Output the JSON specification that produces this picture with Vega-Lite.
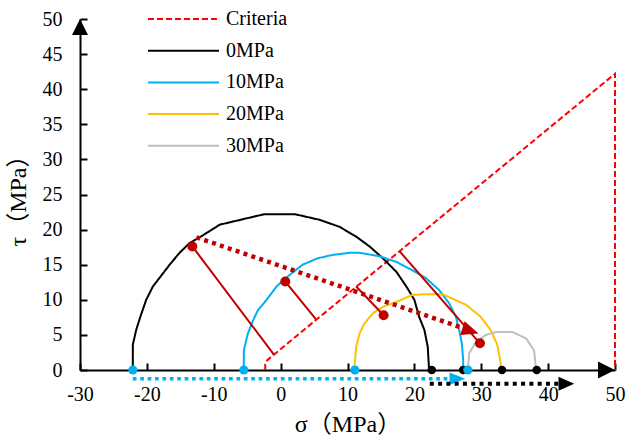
{
  "$schema": "https://vega.github.io/schema/vega-lite/v6.json",
  "width": 535,
  "height": 351,
  "autosize": {"type": "none"},
  "padding": {"left": 80, "top": 19, "right": 13, "bottom": 72},
  "background": "white",
  "config": {
    "view": {"stroke": null},
    "font": "Liberation Serif, Times New Roman, serif",
    "axis": {
      "grid": false,
      "domainColor": "black",
      "domainWidth": 2,
      "tickColor": "black",
      "tickWidth": 2,
      "tickSize": -7,
      "labelFlush": false,
      "labelFont": "Liberation Serif, Times New Roman, serif",
      "labelFontSize": 20,
      "labelColor": "black",
      "titleFont": "Liberation Serif, Noto Sans CJK SC, serif",
      "titleFontSize": 24,
      "titleFontWeight": "normal",
      "titleColor": "black"
    },
    "legend": {
      "orient": "none",
      "legendX": 67,
      "legendY": -10,
      "padding": 0,
      "symbolType": "stroke",
      "symbolSize": 5041,
      "symbolStrokeWidth": 2,
      "clipHeight": 20,
      "rowPadding": 11.7,
      "labelOffset": 6,
      "labelFont": "Liberation Serif, Times New Roman, serif",
      "labelFontSize": 20,
      "labelColor": "black",
      "labelLimit": 200
    }
  },
  "datasets": {
    "curves": [
      {"s": "Criteria", "i": 0, "x": -2.3, "y": 0},
      {"s": "Criteria", "i": 1, "x": -2.3, "y": 0.8},
      {"s": "Criteria", "i": 2, "x": -2.0, "y": 1.4},
      {"s": "Criteria", "i": 3, "x": -1.5, "y": 1.8},
      {"s": "Criteria", "i": 4, "x": 50, "y": 42.2},
      {"s": "Criteria", "i": 5, "x": 50, "y": 0},

      {"s": "0MPa", "i": 0, "x": -22.1, "y": 0},
      {"s": "0MPa", "i": 1, "x": -22.1, "y": 3.6},
      {"s": "0MPa", "i": 2, "x": -21.6, "y": 5.7},
      {"s": "0MPa", "i": 3, "x": -20.9, "y": 7.8},
      {"s": "0MPa", "i": 4, "x": -20.1, "y": 10.0},
      {"s": "0MPa", "i": 5, "x": -19.1, "y": 11.9},
      {"s": "0MPa", "i": 6, "x": -17.8, "y": 13.5},
      {"s": "0MPa", "i": 7, "x": -16.6, "y": 15.0},
      {"s": "0MPa", "i": 8, "x": -15.1, "y": 16.7},
      {"s": "0MPa", "i": 9, "x": -13.6, "y": 18.1},
      {"s": "0MPa", "i": 10, "x": -11.6, "y": 19.2},
      {"s": "0MPa", "i": 11, "x": -9.1, "y": 20.7},
      {"s": "0MPa", "i": 12, "x": -5.1, "y": 21.6},
      {"s": "0MPa", "i": 13, "x": -2.4, "y": 22.2},
      {"s": "0MPa", "i": 14, "x": 2.1, "y": 22.2},
      {"s": "0MPa", "i": 15, "x": 5.8, "y": 21.4},
      {"s": "0MPa", "i": 16, "x": 8.8, "y": 20.4},
      {"s": "0MPa", "i": 17, "x": 11.3, "y": 19.0},
      {"s": "0MPa", "i": 18, "x": 13.3, "y": 17.6},
      {"s": "0MPa", "i": 19, "x": 15.3, "y": 15.9},
      {"s": "0MPa", "i": 20, "x": 17.3, "y": 14.0},
      {"s": "0MPa", "i": 21, "x": 18.8, "y": 11.9},
      {"s": "0MPa", "i": 22, "x": 20.0, "y": 10.0},
      {"s": "0MPa", "i": 23, "x": 20.7, "y": 7.6},
      {"s": "0MPa", "i": 24, "x": 21.5, "y": 5.7},
      {"s": "0MPa", "i": 25, "x": 22.0, "y": 3.3},
      {"s": "0MPa", "i": 26, "x": 22.2, "y": 0},

      {"s": "10MPa", "i": 0, "x": -5.5, "y": 0},
      {"s": "10MPa", "i": 1, "x": -5.5, "y": 2.8},
      {"s": "10MPa", "i": 2, "x": -4.9, "y": 5.2},
      {"s": "10MPa", "i": 3, "x": -4.1, "y": 7.1},
      {"s": "10MPa", "i": 4, "x": -3.4, "y": 8.5},
      {"s": "10MPa", "i": 5, "x": -2.1, "y": 10.0},
      {"s": "10MPa", "i": 6, "x": -0.6, "y": 11.9},
      {"s": "10MPa", "i": 7, "x": 1.3, "y": 13.5},
      {"s": "10MPa", "i": 8, "x": 3.3, "y": 15.0},
      {"s": "10MPa", "i": 9, "x": 5.5, "y": 15.9},
      {"s": "10MPa", "i": 10, "x": 7.8, "y": 16.4},
      {"s": "10MPa", "i": 11, "x": 10.3, "y": 16.7},
      {"s": "10MPa", "i": 12, "x": 11.8, "y": 16.7},
      {"s": "10MPa", "i": 13, "x": 14.8, "y": 16.2},
      {"s": "10MPa", "i": 14, "x": 17.3, "y": 15.4},
      {"s": "10MPa", "i": 15, "x": 19.7, "y": 14.2},
      {"s": "10MPa", "i": 16, "x": 21.7, "y": 13.1},
      {"s": "10MPa", "i": 17, "x": 23.7, "y": 11.4},
      {"s": "10MPa", "i": 18, "x": 25.2, "y": 9.5},
      {"s": "10MPa", "i": 19, "x": 26.2, "y": 7.6},
      {"s": "10MPa", "i": 20, "x": 26.7, "y": 5.7},
      {"s": "10MPa", "i": 21, "x": 27.1, "y": 3.8},
      {"s": "10MPa", "i": 22, "x": 27.3, "y": 1.4},
      {"s": "10MPa", "i": 23, "x": 27.3, "y": 0},

      {"s": "20MPa", "i": 0, "x": 11.0, "y": 0},
      {"s": "20MPa", "i": 1, "x": 11.3, "y": 3.3},
      {"s": "20MPa", "i": 2, "x": 11.8, "y": 5.2},
      {"s": "20MPa", "i": 3, "x": 12.5, "y": 6.6},
      {"s": "20MPa", "i": 4, "x": 13.8, "y": 8.1},
      {"s": "20MPa", "i": 5, "x": 15.3, "y": 9.0},
      {"s": "20MPa", "i": 6, "x": 17.3, "y": 9.7},
      {"s": "20MPa", "i": 7, "x": 19.7, "y": 10.7},
      {"s": "20MPa", "i": 8, "x": 21.7, "y": 10.8},
      {"s": "20MPa", "i": 9, "x": 24.2, "y": 10.8},
      {"s": "20MPa", "i": 10, "x": 27.7, "y": 9.3},
      {"s": "20MPa", "i": 11, "x": 29.9, "y": 7.6},
      {"s": "20MPa", "i": 12, "x": 31.4, "y": 5.7},
      {"s": "20MPa", "i": 13, "x": 32.4, "y": 3.6},
      {"s": "20MPa", "i": 14, "x": 32.9, "y": 1.0},
      {"s": "20MPa", "i": 15, "x": 32.9, "y": 0},

      {"s": "30MPa", "i": 0, "x": 28.0, "y": 0},
      {"s": "30MPa", "i": 1, "x": 28.2, "y": 2.4},
      {"s": "30MPa", "i": 2, "x": 29.2, "y": 4.0},
      {"s": "30MPa", "i": 3, "x": 30.7, "y": 5.0},
      {"s": "30MPa", "i": 4, "x": 32.2, "y": 5.4},
      {"s": "30MPa", "i": 5, "x": 34.7, "y": 5.4},
      {"s": "30MPa", "i": 6, "x": 36.7, "y": 4.5},
      {"s": "30MPa", "i": 7, "x": 37.9, "y": 2.8},
      {"s": "30MPa", "i": 8, "x": 38.2, "y": 0}
    ],
    "normals": [
      {"x": -13.2, "y": 17.6, "x2": -1.0, "y2": 2.2},
      {"x": 0.7, "y": 12.6, "x2": 5.3, "y2": 7.2},
      {"x": 15.4, "y": 7.8, "x2": 11.3, "y2": 11.9},
      {"x": 17.8, "y": 16.9, "x2": 29.8, "y2": 3.8}
    ],
    "redPath": [{"x": -12.6, "y": 18.9, "x2": 27.5, "y2": 5.9}],
    "redHead": [{"x": 29.6, "y": 5.2}],
    "bluePath": [{"x": -22.1, "y": -1.25, "x2": 26.0, "y2": -1.25}],
    "blueHead": [{"x": 27.6, "y": -1.25}],
    "blackPath": [{"x": 22.3, "y": -1.95, "x2": 42.2, "y2": -1.95}],
    "blackHead": [{"x": 43.9, "y": -1.95}],
    "yTip": [{"x": -30, "y": 50}],
    "xTip": [{"x": 50, "y": 0}],
    "blackDots": [
      {"x": 22.6, "y": 0}, {"x": 27.3, "y": 0}, {"x": 33.1, "y": 0}, {"x": 38.3, "y": 0}
    ],
    "blueDots": [
      {"x": -22.1, "y": 0}, {"x": -5.5, "y": 0}, {"x": 11.1, "y": 0}, {"x": 28.0, "y": 0}
    ],
    "redDots": [
      {"x": -13.2, "y": 17.6}, {"x": 0.7, "y": 12.6}, {"x": 15.4, "y": 7.8}, {"x": 29.8, "y": 3.8}
    ]
  },
  "encoding": {
    "x": {
      "field": "x", "type": "quantitative",
      "scale": {"domain": [-30, 50], "nice": false, "zero": false},
      "axis": {
        "values": [-30, -20, -10, 0, 10, 20, 30, 40, 50],
        "labelExpr": "'' + datum.value",
        "labelPadding": 21,
        "title": "σ（MPa）",
        "titlePadding": 8
      }
    },
    "y": {
      "field": "y", "type": "quantitative",
      "scale": {"domain": [0, 50], "nice": false, "zero": false},
      "axis": {
        "values": [0, 5, 10, 15, 20, 25, 30, 35, 40, 45, 50],
        "labelPadding": 25,
        "title": "τ（MPa）",
        "titlePadding": 12
      }
    }
  },
  "layer": [
    {
      "data": {"name": "curves"},
      "mark": {"type": "line", "strokeWidth": 2, "interpolate": "linear"},
      "encoding": {
        "order": {"field": "i", "type": "quantitative"},
        "color": {
          "field": "s", "type": "nominal",
          "scale": {
            "domain": ["Criteria", "0MPa", "10MPa", "20MPa", "30MPa"],
            "range": ["#FF0000", "#000000", "#00B0F0", "#FFC000", "#BFBFBF"]
          },
          "legend": {"title": null}
        },
        "strokeDash": {
          "field": "s", "type": "nominal",
          "scale": {
            "domain": ["Criteria", "0MPa", "10MPa", "20MPa", "30MPa"],
            "range": [[6, 3], [1, 0], [1, 0], [1, 0], [1, 0]]
          },
          "legend": {"title": null}
        }
      }
    },
    {
      "data": {"name": "normals"},
      "mark": {"type": "rule", "color": "#C00000", "strokeWidth": 2},
      "encoding": {"x2": {"field": "x2"}, "y2": {"field": "y2"}}
    },
    {
      "data": {"name": "redPath"},
      "mark": {"type": "rule", "color": "#C00000", "strokeWidth": 4.5, "strokeDash": [4, 4.3]},
      "encoding": {"x2": {"field": "x2"}, "y2": {"field": "y2"}}
    },
    {
      "data": {"name": "redHead"},
      "mark": {"type": "point", "shape": "M0,0L-2,-0.85L-2,0.85Z", "size": 289, "angle": 18, "filled": true, "opacity": 1, "color": "#C00000", "strokeWidth": 0}
    },
    {
      "data": {"name": "bluePath"},
      "mark": {"type": "rule", "color": "#00B0F0", "strokeWidth": 3.5, "strokeDash": [3.7, 3.7]},
      "encoding": {"x2": {"field": "x2"}, "y2": {"field": "y2"}}
    },
    {
      "data": {"name": "blueHead"},
      "mark": {"type": "point", "shape": "M0,0L-2,-0.8L-2,0.8Z", "size": 246, "filled": true, "opacity": 1, "color": "#00B0F0", "strokeWidth": 0}
    },
    {
      "data": {"name": "blackPath"},
      "mark": {"type": "rule", "color": "#000000", "strokeWidth": 4, "strokeDash": [4, 4.3]},
      "encoding": {"x2": {"field": "x2"}, "y2": {"field": "y2"}}
    },
    {
      "data": {"name": "blackHead"},
      "mark": {"type": "point", "shape": "M0,0L-2,-0.9L-2,0.9Z", "size": 246, "filled": true, "opacity": 1, "color": "#000000", "strokeWidth": 0}
    },
    {
      "data": {"name": "yTip"},
      "mark": {"type": "point", "shape": "M0,0L-1,2L1,2Z", "size": 256, "filled": true, "opacity": 1, "color": "#000000", "strokeWidth": 0}
    },
    {
      "data": {"name": "xTip"},
      "mark": {"type": "point", "shape": "M0,0L-2,-1L-2,1Z", "size": 289, "filled": true, "opacity": 1, "color": "#000000", "strokeWidth": 0}
    },
    {
      "data": {"name": "blackDots"},
      "mark": {"type": "circle", "size": 72, "opacity": 1, "color": "#000000"}
    },
    {
      "data": {"name": "blueDots"},
      "mark": {"type": "circle", "size": 85, "opacity": 1, "color": "#00B0F0"}
    },
    {
      "data": {"name": "redDots"},
      "mark": {"type": "circle", "size": 100, "opacity": 1, "color": "#C00000"}
    }
  ]
}
